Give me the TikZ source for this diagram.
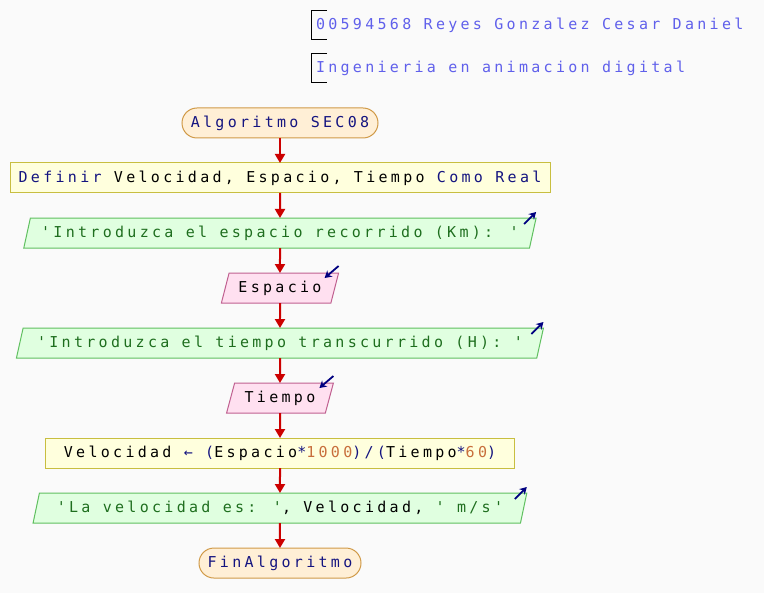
\documentclass[tikz,border=0pt]{standalone}
\usepackage{fontspec}
\usepackage{xcolor}
\usetikzlibrary{arrows.meta, positioning, shapes.geometric}

\newfontfamily\psmono[LetterSpace=22]{DejaVu Sans Mono}

\definecolor{bgcol}{RGB}{250,250,250}
\definecolor{termfill}{RGB}{255,239,214}
\definecolor{termline}{RGB}{208,154,72}
\definecolor{procfill}{RGB}{255,255,221}
\definecolor{procline}{RGB}{200,190,64}
\definecolor{outfill}{RGB}{224,255,224}
\definecolor{outline}{RGB}{96,192,96}
\definecolor{infill}{RGB}{255,224,240}
\definecolor{inline}{RGB}{192,96,144}
\definecolor{flowred}{RGB}{204,0,0}
\definecolor{kwcol}{RGB}{20,20,128}
\definecolor{strcol}{RGB}{30,110,30}
\definecolor{numcol}{RGB}{200,110,60}
\definecolor{cmtcol}{RGB}{96,96,235}
\definecolor{iocol}{RGB}{0,0,128}

\newcommand{\pskw}[1]{\textcolor{kwcol}{#1}}
\newcommand{\psstr}[1]{\textcolor{strcol}{#1}}
\newcommand{\psnum}[1]{\textcolor{numcol}{#1}}

\begin{document}
\begin{tikzpicture}[
  x=1pt, y=1pt,
  node distance=25pt,
  every node/.style={font=\psmono\fontsize{15}{17}\selectfont, minimum height=30pt, inner sep=0pt, outer sep=0pt, text=black},
  terminal/.style={draw=termline, fill=termfill, rounded corners=15pt, line width=1pt},
  process/.style={draw=procline, fill=procfill, line width=1pt},
  outbox/.style={trapezium, trapezium left angle=66.6, trapezium right angle=113.4,
    trapezium stretches=true, draw=outline, fill=outfill, line width=1pt},
  inbox/.style={trapezium, trapezium left angle=66.6, trapezium right angle=113.4,
    trapezium stretches=true, draw=inline, fill=infill, line width=1pt},
  comment/.style={anchor=west, minimum height=29pt, inner xsep=5pt, text=cmtcol},
  flow/.style={-{Triangle[length=9pt, width=10pt]}, draw=flowred, line width=2pt},
  iomark/.style={-{Stealth[length=7pt, width=8pt]}, draw=iocol, line width=1.8pt}
]

% background and page size
\fill[bgcol] (0,0) rectangle (764,-593);
\useasboundingbox (0,0) rectangle (764,-593);

% comments
\node[comment] (name) at (311,-25.5) {00594568 Reyes Gonzalez Cesar Daniel};
\node[comment] (career) at (311,-68.5) {Ingenieria en animacion digital};
\draw[line width=1pt] ([xshift=16pt]name.north west) -| (name.south west) -- ++(16,0);
\draw[line width=1pt] ([xshift=16pt]career.north west) -| (career.south west) -- ++(16,0);

% flowchart
\node[terminal, minimum width=196pt] (start) at (280,-123) {\pskw{Algoritmo SEC08}};
\node[process, minimum width=540pt] (define) [below=of start]
  {\pskw{Definir} Velocidad, Espacio, Tiempo \pskw{Como Real}};
\node[outbox, minimum width=515pt] (askspace) [below=of define]
  {\psstr{'Introduzca el espacio recorrido (Km): '}};
\node[inbox, minimum width=118pt] (space) [below=of askspace] {Espacio};
\node[outbox, minimum width=529pt] (asktime) [below=of space]
  {\psstr{'Introduzca el tiempo transcurrido (H): '}};
\node[inbox, minimum width=107pt] (time) [below=of asktime] {Tiempo};
\node[process, minimum width=469pt] (calc) [below=of time]
  {Velocidad \pskw{←} \pskw{(}Espacio\pskw{*}\psnum{1000}\pskw{)/(}Tiempo\pskw{*}\psnum{60}\pskw{)}};
\node[outbox, minimum width=494pt] (show) [below=of calc]
  {\psstr{'La velocidad es: '}, Velocidad, \psstr{' m/s'}};
\node[terminal, minimum width=162pt] (stop) [below=of show] {\pskw{FinAlgoritmo}};

\draw[flow] (start) -- (define);
\draw[flow] (define) -- (askspace);
\draw[flow] (askspace) -- (space);
\draw[flow] (space) -- (asktime);
\draw[flow] (asktime) -- (time);
\draw[flow] (time) -- (calc);
\draw[flow] (calc) -- (show);
\draw[flow] (show) -- (stop);

% input / output marks
\foreach \n in {askspace, asktime, show}
  \draw[iomark] ([shift={(-12,-6)}]\n.top right corner) -- ([shift={(0,6)}]\n.top right corner);
\foreach \n in {space, time}
  \draw[iomark] ([shift={(0,7)}]\n.top right corner) -- ([shift={(-14,-5)}]\n.top right corner);

\end{tikzpicture}
\end{document}
